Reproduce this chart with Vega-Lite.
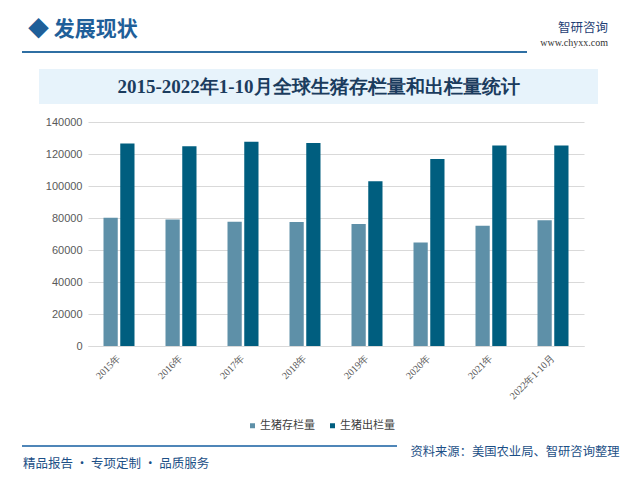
{
  "$schema": "https://vega.github.io/schema/vega-lite/v6.json",
  "background": "white",
  "padding": {"left": 22, "top": 19, "right": 20, "bottom": 0},
  "config": {"view": {"stroke": null}, "font": "Noto Sans CJK SC"},
  "spacing": 0,
  "vconcat": [
    {
      "bounds": "flush",
      "spacing": 11,
      "hconcat": [
        {
          "width": 505, "height": 2,
          "view": {"fill": "#2f6fa3"},
          "data": {"values": [{}]},
          "mark": "text",
          "encoding": {"text": {"value": ""}},
          "title": {"text": "◆  发展现状", "anchor": "start", "fontSize": 21, "fontWeight": "bold", "color": "#1f5f99", "font": "Noto Sans CJK SC", "offset": 6, "dx": 6}
        },
        {
          "width": 70, "height": 2,
          "data": {"values": [{}]},
          "mark": "text",
          "encoding": {"text": {"value": ""}},
          "title": {"text": "智研咨询", "subtitle": "www.chyxx.com", "anchor": "end", "fontSize": 12.5, "fontWeight": "normal", "color": "#1f3f74", "font": "Noto Sans CJK SC", "subtitleColor": "#333333", "subtitleFontSize": 10, "subtitleFont": "Liberation Serif", "subtitlePadding": 4, "offset": -2}
        }
      ]
    },
    {"width": 1, "height": 12, "data": {"values": [{}]}, "mark": "text", "encoding": {"text": {"value": ""}}},
    {
      "bounds": "flush",
      "spacing": 0,
      "hconcat": [
        {"width": 17, "height": 35, "data": {"values": [{}]}, "mark": "text", "encoding": {"text": {"value": ""}}},
        {
          "width": 559, "height": 35,
          "view": {"fill": "#e7f3fb"},
          "data": {"values": [{}]},
          "mark": {"type": "text", "font": "Liberation Serif", "fontSize": 19, "fontWeight": "bold", "color": "#1b3c5e"},
          "encoding": {"text": {"value": "2015-2022年1-10月全球生猪存栏量和出栏量统计"}}
        }
      ]
    },
    {"width": 1, "height": 1, "data": {"values": [{}]}, "mark": "text", "encoding": {"text": {"value": ""}}},
    {
      "bounds": "flush",
      "spacing": 0,
      "hconcat": [
        {"width": 66, "height": 1, "data": {"values": [{}]}, "mark": "text", "encoding": {"text": {"value": ""}}},
        {
          "width": 496, "height": 224,
          "data": {"values": [
            {"year": "2015年", "series": "生猪存栏量", "value": 80200},
            {"year": "2015年", "series": "生猪出栏量", "value": 126500},
            {"year": "2016年", "series": "生猪存栏量", "value": 79000},
            {"year": "2016年", "series": "生猪出栏量", "value": 124900},
            {"year": "2017年", "series": "生猪存栏量", "value": 77600},
            {"year": "2017年", "series": "生猪出栏量", "value": 127600},
            {"year": "2018年", "series": "生猪存栏量", "value": 77500},
            {"year": "2018年", "series": "生猪出栏量", "value": 126900},
            {"year": "2019年", "series": "生猪存栏量", "value": 76300},
            {"year": "2019年", "series": "生猪出栏量", "value": 102900},
            {"year": "2020年", "series": "生猪存栏量", "value": 64700},
            {"year": "2020年", "series": "生猪出栏量", "value": 116800},
            {"year": "2021年", "series": "生猪存栏量", "value": 75100},
            {"year": "2021年", "series": "生猪出栏量", "value": 125300},
            {"year": "2022年1-10月", "series": "生猪存栏量", "value": 78600},
            {"year": "2022年1-10月", "series": "生猪出栏量", "value": 125300}
          ]},
          "mark": {"type": "bar"},
          "encoding": {
            "x": {
              "field": "year", "type": "nominal", "sort": null,
              "scale": {"paddingInner": 0.5, "paddingOuter": 0.25},
              "axis": {"title": null, "labelAngle": -45, "labelAlign": "right", "labelBaseline": "middle", "labelFont": "Liberation Serif", "labelFontSize": 10, "labelColor": "#595959", "ticks": false, "domainColor": "#d9d9d9", "labelPadding": 10}
            },
            "xOffset": {"field": "series", "type": "nominal", "sort": ["生猪存栏量", "生猪出栏量"], "scale": {"paddingInner": 0.15}},
            "y": {
              "field": "value", "type": "quantitative",
              "scale": {"domain": [0, 140000]},
              "axis": {"title": null, "values": [0, 20000, 40000, 60000, 80000, 100000, 120000, 140000], "format": "d", "grid": true, "gridColor": "#d9d9d9", "domain": false, "ticks": false, "labelFontSize": 11, "labelColor": "#595959", "labelPadding": 6, "labelFont": "Liberation Sans"}
            },
            "color": {
              "field": "series", "type": "nominal", "sort": ["生猪存栏量", "生猪出栏量"],
              "scale": {"range": ["#5e90a8", "#005e7f"]},
              "legend": {"orient": "none", "legendX": 225, "legendY": 369, "direction": "horizontal", "title": null, "symbolType": "square", "symbolSize": 25, "labelFontSize": 11, "labelColor": "#404040", "columnPadding": 12, "labelOffset": 2, "labelFont": "Noto Sans CJK SC"}
            }
          }
        }
      ]
    },
    {"width": 1, "height": 39, "data": {"values": [{}]}, "mark": "text", "encoding": {"text": {"value": ""}}},
    {
      "bounds": "flush",
      "spacing": 13,
      "hconcat": [
        {
          "width": 375, "height": 2,
          "view": {"fill": "#4f86b8"},
          "data": {"values": [{}]},
          "mark": "text",
          "encoding": {"text": {"value": ""}},
          "title": {"text": "精品报告 · 专项定制 · 品质服务", "orient": "bottom", "anchor": "start", "fontSize": 12.5, "fontWeight": "normal", "color": "#1c4f86", "font": "Noto Sans CJK SC", "offset": 7, "dx": 1}
        },
        {
          "width": 210, "height": 14,
          "data": {"values": [{}]},
          "mark": {"type": "text", "fontSize": 12.3, "color": "#1c4f86", "font": "Noto Sans CJK SC"},
          "encoding": {"text": {"value": "资料来源：美国农业局、智研咨询整理"}}
        }
      ]
    }
  ]
}
